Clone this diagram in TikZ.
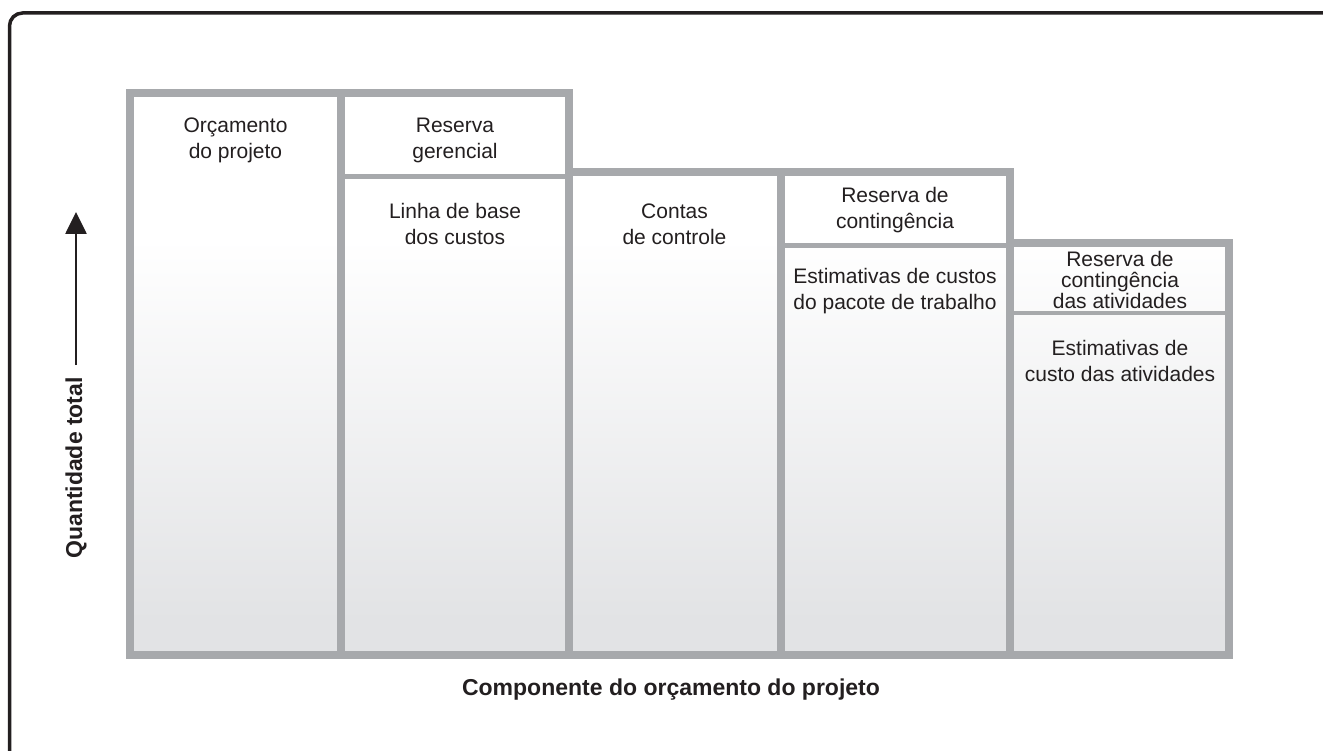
\documentclass[tikz,border=0pt]{standalone}
\usepackage{fontspec}
\setmainfont{Liberation Sans}
\usepackage{xcolor}
\usepackage{tikz}
\usetikzlibrary{arrows.meta, positioning, calc}
\definecolor{ink}{HTML}{231F20}
\definecolor{wallgray}{HTML}{A7A9AC}
\definecolor{washgray}{HTML}{E2E3E5}
\pgfdeclareverticalshading{wash}{100bp}{color(0bp)=(washgray); color(28bp)=(washgray); color(62bp)=(white); color(100bp)=(white)}
\tikzset{
  % Budget chart styles
  cell/.style={align=center, text=ink, inner sep=0pt, font=\fontsize{21}{26}\selectfont},
  tightcell/.style={cell, font=\fontsize{21}{21}\selectfont},
  axislabel/.style={text=ink, inner sep=0pt, font=\bfseries\fontsize{23}{27}\selectfont},
  wall/.style={draw=wallgray, line width=8pt, line join=miter},
  shelf/.style={draw=wallgray, line width=4.5pt},
  frame/.style={draw=ink, line width=3.5pt, rounded corners=13pt},
  axisarrow/.style={-{Triangle[length=22pt, width=21pt]}, line width=2.7pt, draw=ink},
}

\begin{document}
\begin{tikzpicture}[x=1pt, y=-1pt]
    \useasboundingbox (0,0) rectangle (1323,751);
    % Column edges (x) and step levels (y)
    \def\xA{130} \def\xB{341} \def\xC{568.5} \def\xD{780.5} \def\xE{1009.5} \def\xF{1229}
    \def\yTop{93} \def\yMid{172.5} \def\yLow{243} \def\yBot{655}
    % Outer frame (runs off the page right and bottom)
    \draw[frame] (9.5,770) -- (9.5,13) -- (1345,13);
    % Staircase fill
    \shade[shading=wash] (\xA,\yBot) -- (\xA,\yTop) -- (\xC,\yTop) -- (\xC,\yMid) -- (\xE,\yMid)
      -- (\xE,\yLow) -- (\xF,\yLow) -- (\xF,\yBot) -- cycle;
    % Reserve dividers
    \draw[shelf] (\xB,176.5) -- (\xC,176.5);
    \draw[shelf] (\xD,245.5) -- (\xE,245.5);
    \draw[shelf] (\xE,313) -- (\xF,313);
    % Column walls
    \foreach \x/\y in {\xB/\yTop, \xD/\yMid} {
      \draw[wall] (\x,\y) -- (\x,\yBot);
    }
    \draw[wall] (\xA,\yBot) -- (\xA,\yTop) -- (\xC,\yTop) -- (\xC,\yMid) -- (\xE,\yMid)
      -- (\xE,\yLow) -- (\xF,\yLow) -- (\xF,\yBot) -- cycle;
    \draw[wall] (\xC,\yMid) -- (\xC,\yBot);
    \draw[wall] (\xE,\yLow) -- (\xE,\yBot);
    % Cell texts
    \node[cell] (budget) at (235.5,140) {Orçamento\\do projeto};
    \node[cell] (mgmt) at (455,140) {Reserva\\gerencial};
    \node[cell] (baseline) at (455,224) {Linha de base\\dos custos};
    \node[cell] (accounts) at (674.5,224) {Contas\\de controle};
    \node[cell] (contres) at (895,210) {Reserva de\\contingência};
    \node[cell] (wpest) at (895,291) {Estimativas de custos\\do pacote de trabalho};
    \node[tightcell] (actres) at (1120,279.5) {Reserva de\\contingência\\das atividades};
    \node[cell] (actest) at (1120,361) {Estimativas de\\custo das atividades};
    % Axis labels
    \node[axislabel, rotate=90] (qty) at (76,468) {Quantidade total};
    \node[axislabel] (component) at (671,690) {Componente do orçamento do projeto};
    \coordinate (arrtip) at (74,212);
    \draw[axisarrow] ([yshift=12pt]qty.east) -- (qty.east |- arrtip);
\end{tikzpicture}
\end{document}
